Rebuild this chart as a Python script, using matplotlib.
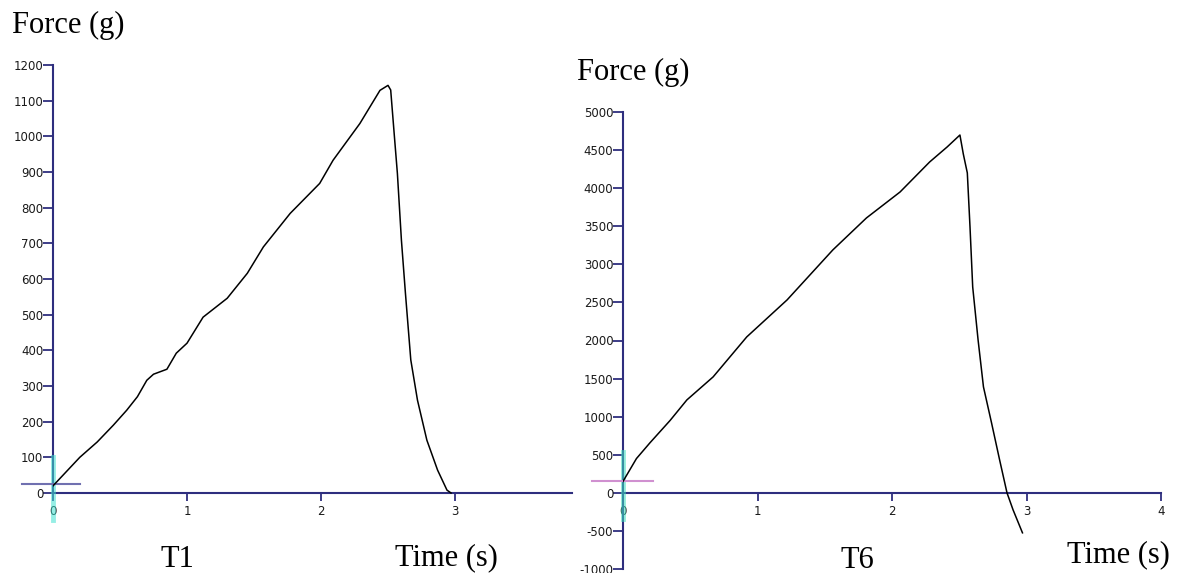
import matplotlib
matplotlib.use("Agg")
import matplotlib.pyplot as plt

plt.rcParams["axes.unicode_minus"] = False

# T1 trace (time s, force g)
t1_time = [0.0, 0.1, 0.2, 0.33, 0.45, 0.55, 0.63, 0.70, 0.75, 0.80, 0.85, 0.92,
           1.00, 1.12, 1.30, 1.45, 1.57, 1.77, 1.99, 2.09, 2.29, 2.44, 2.50,
           2.52, 2.55, 2.57, 2.60, 2.63, 2.67, 2.72, 2.79, 2.87, 2.94, 2.97]
t1_force = [20, 60, 100, 143, 190, 232, 270, 316, 333, 340, 347, 392,
            420, 493, 546, 616, 690, 784, 868, 933, 1036, 1129, 1143,
            1130, 989, 896, 709, 560, 373, 260, 148, 64, 8, 0]

# T6 trace
t6_time = [0.0, 0.05, 0.1, 0.2, 0.35, 0.475, 0.67, 0.92, 1.22, 1.56, 1.81,
           2.06, 2.28, 2.41, 2.505, 2.53, 2.56, 2.58, 2.60, 2.64, 2.68, 2.74,
           2.80, 2.855, 2.90, 2.97]
t6_force = [150, 300, 450, 656, 950, 1220, 1522, 2047, 2533, 3189, 3609,
            3950, 4344, 4541, 4698, 4450, 4200, 3490, 2703, 2008, 1391, 919,
            433, 0, -223, -525]

t1_yticks = list(range(0, 1201, 100))
t1_xticks = [0, 1, 2, 3]
t6_yticks = list(range(-1000, 5001, 500))
t6_xticks = [0, 1, 2, 3, 4]

# cursor marks near origin
t1_cursor_h = ([-0.23, 0.2], [25, 25])
t1_cursor_v = ([0, 0], [100, -75])
t6_cursor_h = ([-0.23, 0.22], [150, 150])
t6_cursor_v = ([0, 0], [540, -350])

W, H = 1179, 573
fig = plt.figure(figsize=(W / 100, H / 100), dpi=100)
navy = "#2e2e7e"


def px_axes(x0, x1, ytop, ybot):
    return fig.add_axes([x0 / W, 1 - ybot / H, (x1 - x0) / W, (ybot - ytop) / H])


def style(ax, xb, yb):
    for s in ["top", "right"]:
        ax.spines[s].set_visible(False)
    ax.spines["bottom"].set_position(("data", 0))
    ax.spines["bottom"].set_bounds(*xb)
    ax.spines["left"].set_bounds(*yb)
    for s in ["bottom", "left"]:
        ax.spines[s].set_color(navy)
        ax.spines[s].set_linewidth(1.5)
    ax.tick_params(axis="both", colors=navy, labelcolor="#1a1a1a",
                   labelsize=8.5, width=1.3, direction="out")
    ax.tick_params(axis="y", length=7, pad=0)
    ax.tick_params(axis="x", length=6, pad=3)


# left panel
ax1 = px_axes(53, 572, 57.9, 521.5)
ax1.set_xlim(0, 3.873)
ax1.set_ylim(-80, 1220)
style(ax1, (0, 3.873), (0, 1200))
ax1.set_yticks(t1_yticks)
ax1.set_xticks(t1_xticks)
ax1.plot(*t1_cursor_v, color="#40e0d0", lw=3.5, alpha=0.55, clip_on=False, zorder=3)
ax1.plot(*t1_cursor_h, color="#7070b0", lw=1.5, clip_on=False, zorder=3)
ax1.plot(t1_time, t1_force, color="black", lw=1.1, zorder=4)

# right panel
ax2 = px_axes(623, 1161, 112, 569)
ax2.set_xlim(0, 4)
ax2.set_ylim(-1000, 5000)
style(ax2, (0, 4), (-1000, 5000))
ax2.set_yticks(t6_yticks)
ax2.set_xticks(t6_xticks)
ax2.plot(*t6_cursor_v, color="#40e0c0", lw=3.5, alpha=0.55, clip_on=False, zorder=3)
ax2.plot(*t6_cursor_h, color="#d090d0", lw=1.5, clip_on=False, zorder=3)
ax2.plot(t6_time, t6_force, color="black", lw=1.1, zorder=4)

serif = dict(family="Liberation Serif", size=22, va="baseline", color="black")
fig.text(12 / W, 1 - 33 / H, "Force (g)", ha="left", **serif)
fig.text(577 / W, 1 - 80 / H, "Force (g)", ha="left", **serif)
fig.text(177 / W, 1 - 567 / H, "T1", ha="center", **serif)
fig.text(395 / W, 1 - 565 / H, "Time (s)", ha="left", **serif)
fig.text(857 / W, 1 - 568 / H, "T6", ha="center", **serif)
fig.text(1067 / W, 1 - 562 / H, "Time (s)", ha="left", **serif)

fig.savefig("out.png", dpi=100, facecolor="white")
